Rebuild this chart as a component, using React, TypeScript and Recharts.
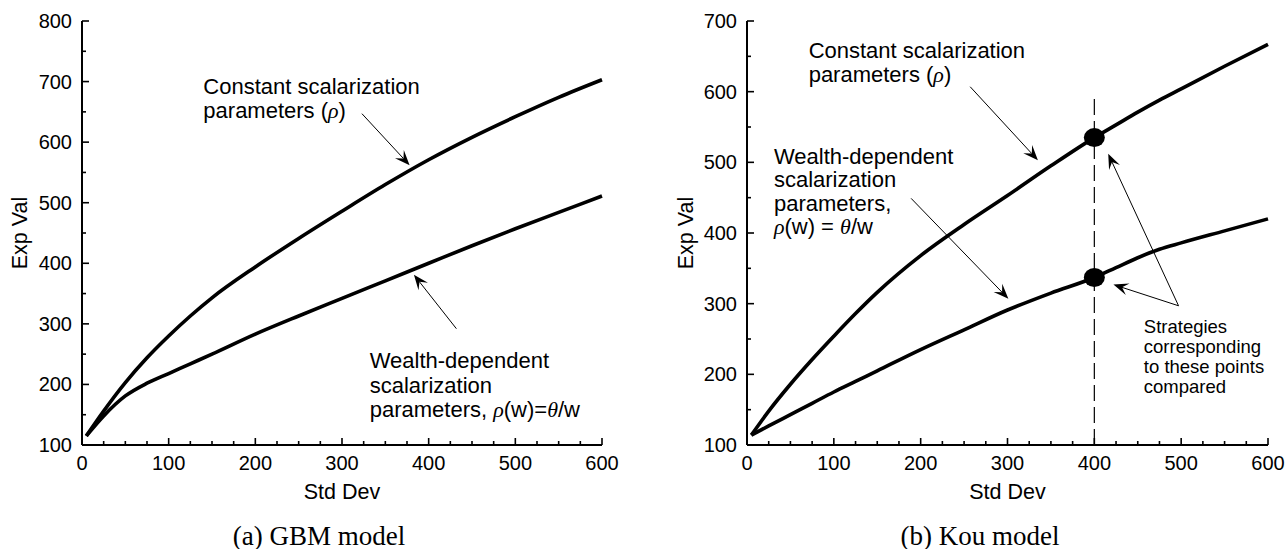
import React from "react";
import { LineChart, Line, XAxis, YAxis, ReferenceLine, ReferenceDot } from "recharts";

const SANS = "'Liberation Sans', Arial, Helvetica, sans-serif";
const SERIF = "'Liberation Serif', 'Times New Roman', serif";

// (a) GBM model
const stdDevGbm = [5, 25, 50, 75, 100, 125, 150, 200, 250, 300, 350, 400, 450, 500, 550, 600];
const constantGbm = [115, 156, 203, 244, 280, 313, 343, 394, 441, 486, 530, 571, 608, 642, 674, 703];
const wealthGbm = [115, 148, 181, 202, 218, 234, 250, 283, 313, 342, 371, 400, 429, 457, 484, 511];

// (b) Kou model
const stdDevKou = [5, 25, 50, 75, 100, 125, 150, 200, 250, 300, 350, 400, 425, 450, 475, 500, 550, 600];
const constantKou = [114, 148, 186, 221, 254, 286, 316, 368, 412, 453, 495, 535, 553, 571, 588, 604, 636, 667];
const wealthKou = [114, 127, 143, 159, 175, 190, 205, 235, 263, 291, 315, 337, 351, 365, 377, 386, 403, 420];
const comparedStdDev = 400;

const xTicks = [0, 25, 50, 75, 100, 125, 150, 175, 200, 225, 250, 275, 300, 325, 350, 375, 400, 425, 450, 475, 500, 525, 550, 575, 600];
const yTicksGbm = [100, 150, 200, 250, 300, 350, 400, 450, 500, 550, 600, 650, 700, 750, 800];
const yTicksKou = [100, 150, 200, 250, 300, 350, 400, 450, 500, 550, 600, 650, 700];

type Seg = { t: string; m?: boolean };
const rho: Seg = { t: "ρ", m: true };
const theta: Seg = { t: "θ", m: true };

const gbmNotes = [
  { x: 140, y: 679, size: 22, lh: 24, lines: [[{ t: "Constant scalarization" }], [{ t: "parameters (" }, rho, { t: ")" }]] },
  { x: 332, y: 227, size: 22, lh: 24.5, lines: [[{ t: "Wealth-dependent" }], [{ t: "scalarization" }], [{ t: "parameters,  " }, rho, { t: "(w)=" }, theta, { t: "/w" }]] },
];
const gbmArrows = [
  { from: [323, 647], to: [378, 562] },
  { from: [432, 292], to: [383, 381] },
];

const kouNotes = [
  { x: 71, y: 647, size: 22, lh: 24, lines: [[{ t: "Constant scalarization" }], [{ t: "parameters (" }, rho, { t: ")" }]] },
  { x: 31, y: 498, size: 22, lh: 23.5, lines: [[{ t: "Wealth-dependent" }], [{ t: "scalarization" }], [{ t: "parameters," }], [rho, { t: "(w) = " }, theta, { t: "/w" }]] },
  { x: 457, y: 258, size: 18.5, lh: 20, lines: [[{ t: "Strategies" }], [{ t: "corresponding" }], [{ t: "to these points" }], [{ t: "compared" }]] },
];
const kouArrows = [
  { from: [257, 607], to: [335, 503] },
  { from: [189, 449], to: [301, 307] },
  { from: [497, 297], to: [416, 512] },
  { from: [497, 297], to: [422, 327] },
];

const XTick = (props: any) => {
  const { x, y, payload } = props;
  const major = payload.value % 100 === 0;
  return (
    <g>
      <line x1={x} y1={y} x2={x} y2={y - (major ? 7 : 4)} stroke="#000" strokeWidth={1.6} />
      {major && (
        <text x={x} y={y + 25} textAnchor="middle" fontSize={20} fontFamily={SANS} fill="#000">
          {payload.value}
        </text>
      )}
    </g>
  );
};

const YTick = (props: any) => {
  const { x, y, payload } = props;
  const major = payload.value % 100 === 0;
  return (
    <g>
      <line x1={x} y1={y} x2={x + (major ? 7 : 4)} y2={y} stroke="#000" strokeWidth={1.6} />
      {major && (
        <text x={x - 10} y={y + 7} textAnchor="end" fontSize={20} fontFamily={SANS} fill="#000">
          {payload.value}
        </text>
      )}
    </g>
  );
};

const Arrow = (props: any) => {
  const { x1, y1, x2, y2 } = props;
  const a = Math.atan2(y2 - y1, x2 - x1);
  const c = Math.cos(a);
  const s = Math.sin(a);
  const L = 15;
  const W = 6;
  const bx = x2 - L * c;
  const by = y2 - L * s;
  const ix = x2 - L * 0.6 * c;
  const iy = y2 - L * 0.6 * s;
  return (
    <g>
      <line x1={x1} y1={y1} x2={ix} y2={iy} stroke="#000" strokeWidth={1} />
      <path
        d={`M${x2},${y2} L${bx - W * s},${by + W * c} L${ix},${iy} L${bx + W * s},${by - W * c} Z`}
        fill="#000"
      />
    </g>
  );
};

const Note = ({ cx, cy, lines, size, lh }: any) => (
  <text x={cx} y={cy} fontSize={size} fontFamily={SANS} fill="#000">
    {lines.map((segs: Seg[], i: number) => (
      <tspan key={i} x={cx} dy={i === 0 ? 0 : lh}>
        {segs.map((sg, j) =>
          sg.m ? (
            <tspan key={j} fontFamily={SERIF} fontStyle="italic">
              {sg.t}
            </tspan>
          ) : (
            <tspan key={j}>{sg.t}</tspan>
          )
        )}
      </tspan>
    ))}
  </text>
);

const yTitle = (dx: number) => (p: any) => {
  const vb = p.viewBox;
  const cx = vb.x + dx;
  const cy = vb.y + vb.height / 2;
  return (
    <text
      x={cx}
      y={cy}
      transform={`rotate(-90, ${cx}, ${cy})`}
      textAnchor="middle"
      dominantBaseline="central"
      fontSize={21.5}
      fontFamily={SANS}
      fill="#000"
    >
      Exp Val
    </text>
  );
};

const xTitle = (p: any) => {
  const vb = p.viewBox;
  return (
    <text x={vb.x + vb.width / 2} y={vb.y + 54} textAnchor="middle" fontSize={21.5} fontFamily={SANS} fill="#000">
      Std Dev
    </text>
  );
};

function Panel({
  xs,
  upper,
  lower,
  yTicks,
  yMax,
  yAxisWidth,
  titleDx,
  rightMargin,
  width,
  notes,
  arrows,
  children,
}: any) {
  const data = xs.map((x: number, i: number) => ({ x, upper: upper[i], lower: lower[i] }));
  return (
    <LineChart
      width={width}
      height={549}
      data={data}
      margin={{ top: 21, right: rightMargin, bottom: 44, left: 0 }}
    >
      <XAxis
        type="number"
        dataKey="x"
        domain={[0, 600]}
        ticks={xTicks}
        interval={0}
        tickSize={0}
        tickMargin={0}
        tickLine={false}
        tick={XTick}
        height={60}
        axisLine={{ stroke: "#000", strokeWidth: 2 }}
        label={xTitle}
      />
      <YAxis
        type="number"
        domain={[100, yMax]}
        ticks={yTicks}
        interval={0}
        tickSize={0}
        tickMargin={0}
        tickLine={false}
        tick={YTick}
        width={yAxisWidth}
        axisLine={{ stroke: "#000", strokeWidth: 2 }}
        label={yTitle(titleDx)}
      />
      {children}
      <Line type="monotone" dataKey="upper" stroke="#000" strokeWidth={3.6} dot={false} isAnimationActive={false} />
      <Line type="monotone" dataKey="lower" stroke="#000" strokeWidth={3.6} dot={false} isAnimationActive={false} />
      {arrows.map((a: any, i: number) => (
        <ReferenceLine
          key={"a" + i}
          segment={[
            { x: a.from[0], y: a.from[1] },
            { x: a.to[0], y: a.to[1] },
          ]}
          ifOverflow="visible"
          shape={Arrow}
        />
      ))}
      {notes.map((n: any, i: number) => (
        <ReferenceDot
          key={"n" + i}
          x={n.x}
          y={n.y}
          ifOverflow="visible"
          shape={(p: any) => <Note cx={p.cx} cy={p.cy} lines={n.lines} size={n.size} lh={n.lh} />}
        />
      ))}
    </LineChart>
  );
}

const Ellipse = (p: any) => <ellipse cx={p.cx} cy={p.cy} rx={10.5} ry={9.5} fill="#000" />;

export default function App() {
  const k = stdDevKou.indexOf(comparedStdDev);
  return (
    <div style={{ position: "absolute", left: 0, top: 0, width: 1287, height: 549, background: "#fff" }}>
      <div style={{ position: "absolute", left: 0, top: 0 }}>
        <Panel
          xs={stdDevGbm}
          upper={constantGbm}
          lower={wealthGbm}
          yTicks={yTicksGbm}
          yMax={800}
          yAxisWidth={82}
          titleDx={20}
          rightMargin={41}
          width={643}
          notes={gbmNotes}
          arrows={gbmArrows}
        />
      </div>
      <div style={{ position: "absolute", left: 643, top: 0 }}>
        <Panel
          xs={stdDevKou}
          upper={constantKou}
          lower={wealthKou}
          yTicks={yTicksKou}
          yMax={700}
          yAxisWidth={104}
          titleDx={43}
          rightMargin={19}
          width={644}
          notes={kouNotes}
          arrows={kouArrows}
        >
          <ReferenceLine
            segment={[
              { x: comparedStdDev, y: 100 },
              { x: comparedStdDev, y: 590 },
            ]}
            stroke="#000"
            strokeWidth={1.2}
            strokeDasharray="16 6"
          />
          <ReferenceDot x={comparedStdDev} y={constantKou[k]} shape={Ellipse} ifOverflow="visible" />
          <ReferenceDot x={comparedStdDev} y={wealthKou[k]} shape={Ellipse} ifOverflow="visible" />
        </Panel>
      </div>
      <div
        style={{
          position: "absolute",
          left: 169,
          width: 300,
          top: 520,
          textAlign: "center",
          fontFamily: SERIF,
          fontSize: 27,
          lineHeight: "32px",
          whiteSpace: "nowrap",
        }}
      >
        (a) GBM model
      </div>
      <div
        style={{
          position: "absolute",
          left: 830,
          width: 300,
          top: 520,
          textAlign: "center",
          fontFamily: SERIF,
          fontSize: 27,
          lineHeight: "32px",
          whiteSpace: "nowrap",
        }}
      >
        (b) Kou model
      </div>
    </div>
  );
}
